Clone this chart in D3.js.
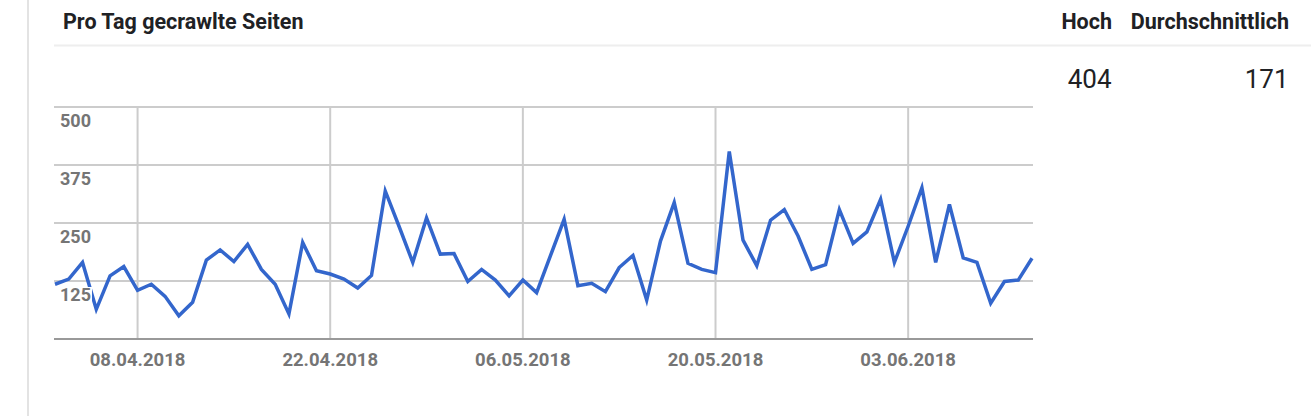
<!DOCTYPE html>
<html>
<head>
<meta charset="utf-8">
<script src="https://cdn.jsdelivr.net/npm/d3@7"></script>
<style>
  html, body { margin: 0; padding: 0; background: #fff; }
  svg { display: block; font-family: Roboto, "Noto Sans", sans-serif; }
</style>
</head>
<body>
<svg id="root"></svg>
<script>
// Pro Tag gecrawlte Seiten, 02.04.2018 - 12.06.2018 (one value per day)
const startDate = "02.04.2018";
const pagesPerDay = [
  118, 129, 165, 64, 136, 156, 105, 118, 92, 50, 79, 170, 192, 167, 204, 150,
  118, 54, 208, 147, 140, 129, 110, 137, 319, 243, 165, 261, 183, 184, 124, 150,
  127, 93, 127, 100, 179, 258, 115, 120, 102, 154, 180, 84, 211, 294, 163, 150,
  143, 404, 213, 158, 256, 279, 222, 150, 160, 279, 206, 231, 301, 165, 243, 326,
  165, 290, 175, 165, 77, 124, 127, 174
];
const xTickLabels = ["08.04.2018", "22.04.2018", "06.05.2018", "20.05.2018", "03.06.2018"];
const yTickValues = [125, 250, 375, 500];
const statLabels = ["Hoch", "Durchschnittlich"];
const statValues = ["404", "171"];

const draw = () => {
  const width = 1311,
    height = 416;

  const parse = d3.timeParse("%d.%m.%Y");
  const t0 = parse(startDate);
  const data = pagesPerDay.map((v, i) => ({ date: d3.timeDay.offset(t0, i), value: v }));

  const svg = d3.select("svg#root").attr("width", width).attr("height", height);

  // left frame line
  svg.append("line")
    .attr("x1", 28).attr("x2", 28).attr("y1", 0).attr("y2", height)
    .attr("stroke", "#e3e3e3").attr("stroke-width", 2);

  // header
  svg.append("text")
    .attr("x", 63).attr("y", 29)
    .attr("font-size", "21.5px").attr("font-weight", "700")
    .attr("fill", "#202124")
    .text("Pro Tag gecrawlte Seiten");

  const statX = [1112, 1289];
  svg.selectAll("text.statLabel")
    .data(statLabels)
    .join("text")
    .attr("class", "statLabel")
    .attr("x", (d, i) => statX[i]).attr("y", 29)
    .attr("text-anchor", "end")
    .attr("font-size", "21.5px").attr("font-weight", "700")
    .attr("fill", "#202124")
    .text((d) => d);

  svg.append("line")
    .attr("x1", 54).attr("x2", width).attr("y1", 45.5).attr("y2", 45.5)
    .attr("stroke", "#eeeeee").attr("stroke-width", 2);

  svg.selectAll("text.statValue")
    .data(statValues)
    .join("text")
    .attr("class", "statValue")
    .attr("x", (d, i) => statX[i] - 0.5).attr("y", 88)
    .attr("text-anchor", "end")
    .attr("font-size", "26px").attr("font-weight", "400")
    .attr("fill", "#202124")
    .text((d) => d);

  // chart
  const x = d3.scaleTime()
    .domain(d3.extent(data, (d) => d.date))
    .range([55, 1032]);
  const y = d3.scaleLinear().domain([0, 500]).range([339, 107]);

  const grid = svg.append("g");
  grid.selectAll("line.h")
    .data(yTickValues)
    .join("line")
    .attr("class", "h")
    .attr("x1", 54).attr("x2", 1033)
    .attr("y1", (d) => y(d)).attr("y2", (d) => y(d))
    .attr("stroke", "#cccccc").attr("stroke-width", 2);

  const xTicks = xTickLabels.map(parse);
  grid.selectAll("line.v")
    .data(xTicks)
    .join("line")
    .attr("class", "v")
    .attr("x1", (d) => x(d)).attr("x2", (d) => x(d))
    .attr("y1", y(500)).attr("y2", y(0))
    .attr("stroke", "#cccccc").attr("stroke-width", 2);

  grid.append("line")
    .attr("x1", 54).attr("x2", 1033)
    .attr("y1", y(0)).attr("y2", y(0))
    .attr("stroke", "#999999").attr("stroke-width", 2);

  const line = d3.line()
    .x((d) => x(d.date))
    .y((d) => y(d.value));

  svg.append("path")
    .datum(data)
    .attr("fill", "none")
    .attr("stroke", "#3366cc")
    .attr("stroke-width", 3.5)
    .attr("stroke-linejoin", "miter")
    .attr("d", line);

  // y labels sit under their grid line, on a white box
  const yLab = svg.selectAll("g.ylab")
    .data(yTickValues)
    .join("g")
    .attr("class", "ylab");
  yLab.append("text")
    .attr("x", 60).attr("y", (d) => y(d) + 20)
    .attr("font-size", "18px").attr("font-weight", "700")
    .attr("fill", "#757575")
    .text((d) => d);
  yLab.each(function () {
    const g = d3.select(this);
    const bb = g.select("text").node().getBBox();
    g.insert("rect", "text")
      .attr("x", bb.x - 1).attr("y", bb.y + 3)
      .attr("width", bb.width + 2).attr("height", bb.height - 5)
      .attr("fill", "#fff");
  });

  svg.selectAll("text.xlab")
    .data(xTicks)
    .join("text")
    .attr("class", "xlab")
    .attr("x", (d) => x(d)).attr("y", 366)
    .attr("text-anchor", "middle")
    .attr("font-size", "18.5px").attr("font-weight", "700")
    .attr("fill", "#757575")
    .text((d, i) => xTickLabels[i]);

  return svg.node();
};

draw();
</script>
</body>
</html>
